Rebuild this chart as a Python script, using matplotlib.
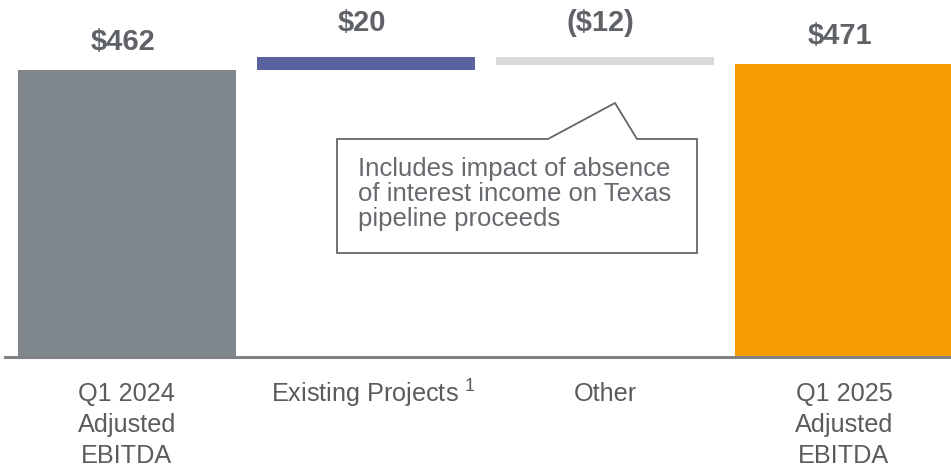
import matplotlib.pyplot as plt
from matplotlib.patches import Polygon

plt.rcParams['font.family'] = ['Liberation Sans', 'DejaVu Sans']

# data
categories = ["Q1 2024\nAdjusted\nEBITDA", "Existing Projects $^{\\mathdefault{1}}$", "Other", "Q1 2025\nAdjusted\nEBITDA"]
values = [462, 20, -12, 471]
value_labels = ["\\$462", "\\$20", "(\\$12)", "\\$471"]
is_total = [True, False, False, True]
bar_colors = ["#7F868C", "#5B62A0", "#D9D9D9", "#F79C00"]
note = "Includes impact of absence\nof interest income on Texas\npipeline proceeds"

W, H = 951, 469
fig = plt.figure(figsize=(W / 100, H / 100), dpi=100)
base_px = 357
ax = fig.add_axes([0, (H - base_px) / H, 1, base_px / H])

# waterfall bottoms
bottoms, heights = [], []
running = 0
for v, tot in zip(values, is_total):
    if tot:
        bottoms.append(0)
        heights.append(v)
        running = v
    else:
        bottoms.append(min(running, running + v))
        heights.append(abs(v))
        running += v

xs = list(range(len(values)))
ax.bar(xs, heights, bottom=bottoms, width=0.912, color=bar_colors, linewidth=0)

for x, b, h, lab, tot in zip(xs, bottoms, heights, value_labels, is_total):
    off = 28 if tot else 34
    ax.annotate(lab, xy=(x, b + h), xytext=(-4, off), textcoords='offset pixels',
                ha='center', va='center', fontsize=21, fontweight='bold', color='#5F6368')

for x, lab in zip(xs, categories):
    # mathtext box top sits at the superscript
    dx, dy = (8, -21) if '$' in lab else (0, -25)
    ax.annotate(lab, xy=(x, 0), xycoords=ax.get_xaxis_transform(), xytext=(dx, dy),
                textcoords='offset pixels', ha='center', va='top', fontsize=18.2,
                color='#595B5F', linespacing=1.38, annotation_clip=False)

ax.set_xlim(-0.531, 3.448)
ax.set_ylim(20.5, 570)
ax.axis('off')

# baseline
fig.add_artist(plt.Line2D([5 / W, 1], [(H - base_px) / H] * 2, transform=fig.transFigure,
                          color='#808285', lw=2.2))

# callout box
pts = [(337, 139), (548, 139), (615, 103), (637, 139), (697, 139), (697, 253), (337, 253)]
poly = Polygon([(px / 100, (H - py) / 100) for px, py in pts], closed=True,
               transform=fig.dpi_scale_trans, facecolor='white', edgecolor='#63666A', lw=1.3)
fig.add_artist(poly)
fig.text(358 / 100, (H - 226) / 100, note, transform=fig.dpi_scale_trans, ha='left', va='baseline',
         fontsize=18.5, color='#666A6E', linespacing=1.04)

fig.savefig('out.png', dpi=100)
